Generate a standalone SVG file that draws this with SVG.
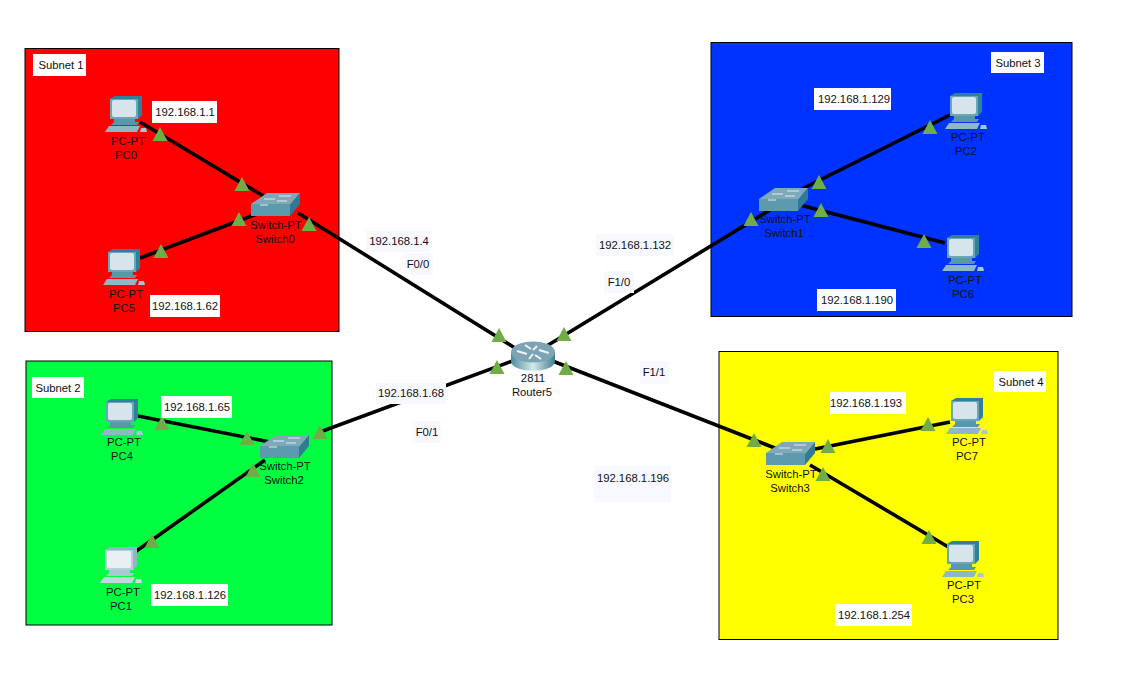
<svg xmlns="http://www.w3.org/2000/svg" width="1147" height="683" viewBox="0 0 1147 683">
<style>
text{font-family:"Liberation Sans",Arial,sans-serif;font-size:11.300px;fill:#101018;text-anchor:middle}
.zone{stroke:#000;stroke-width:1}
.link{stroke:#000;stroke-width:3.600;fill:none}
.w{fill:#fff}.f{fill:#f8f9ff}
.tri{fill:#70ad47}
</style>
<defs>
<linearGradient id="rg" x1="0" x2="1" y1="0" y2="0">
<stop offset="0" stop-color="#4f8d9f"/><stop offset=".5" stop-color="#d5e8ec"/><stop offset="1" stop-color="#3f7f93"/>
</linearGradient>
<g id="pc">
<path d="M5 3 L10 0 H37 V19 L33 23 H5Z" fill="#2f8199"/>
<path d="M5 3 H33 V23 H5Z" fill="#6aa6ba"/>
<rect x="7" y="4" width="24" height="17" rx="2" fill="#d6e4ec"/>
<path d="M9 23 H30 V26 H34 L32 29 H6 L9 26Z" fill="#5b97ab"/>
<path d="M4 30 H35 L32 36 H0Z" fill="#8fb8c6"/>
<path d="M36 32 H41 L42 36 H35Z" fill="#a6c8d2"/>
</g>
<g id="pcl">
<path d="M5 3 L10 0 H37 V19 L33 23 H5Z" fill="#8fb6c4"/>
<path d="M5 3 H33 V23 H5Z" fill="#b4d0da"/>
<rect x="7" y="4" width="24" height="17" rx="2" fill="#e8f0f4"/>
<path d="M9 23 H30 V26 H34 L32 29 H6 L9 26Z" fill="#a8c8d2"/>
<path d="M4 30 H35 L32 36 H0Z" fill="#c2d8de"/>
<path d="M36 32 H41 L42 36 H35Z" fill="#c8dce2"/>
</g>
<g id="sw">
<path d="M0 11 L16 0 H49 L39 12 Z" fill="#7fa9b8"/>
<path d="M0 11 H39 V23 H0Z" fill="#5d9aae"/>
<path d="M39 12 L49 0 V11 L39 23Z" fill="#2f7a94"/>
<path d="M13 6 H24 M28 3 H40 M9 12 H17 M26 8 H36" stroke="#dfeef3" stroke-width="1"/>
</g>
<g id="rt">
<path d="M0 11 V20 C0 33 44 33 44 20 V11Z" fill="url(#rg)"/>
<ellipse cx="22" cy="11" rx="22" ry="10.500" fill="#7ea3b5"/>
<path d="M6 10 L16 13 M38 12 L28 9 M14 4 L20 8 M30 18 L24 14 M26 5 L22 9 M18 18 L22 13" stroke="#eef6f8" stroke-width="2" fill="none"/>
</g>
<path id="tr" class="tri" d="M0 -14 L7.500 0 H-7.500Z"/>
</defs>
<rect width="1147" height="683" fill="#fff"/>
<g id="zones">
<rect class="zone" x="25" y="48.500" width="314" height="283" fill="#ff0000"/>
<rect class="zone" x="711" y="42.500" width="361" height="274" fill="#0033ff"/>
<rect class="zone" x="26" y="361" width="306" height="264" fill="#00ff40"/>
<rect class="zone" x="719" y="351.500" width="339" height="288" fill="#ffff00"/>
</g>
<g id="connectors">
<path class="link" d="M140 122L265 197"/>
<path class="link" d="M140 258L262 212"/>
<path class="link" d="M298 213L515 348"/>
<path class="link" d="M515 360L320 432"/>
<path class="link" d="M138 416L270 442"/>
<path class="link" d="M135 552L265 460"/>
<path class="link" d="M545 347L770 210"/>
<path class="link" d="M790 195L950 115"/>
<path class="link" d="M800 205L945 243"/>
<path class="link" d="M550 360L780 450"/>
<path class="link" d="M810 450L950 422"/>
<path class="link" d="M810 465L950 548"/>
</g>
<g id="triangles">
<use href="#tr" x="160" y="141"/><use href="#tr" x="242" y="191"/><use href="#tr" x="239" y="226"/><use href="#tr" x="309" y="231"/>
<use href="#tr" x="161" y="258"/><use href="#tr" x="162" y="430"/><use href="#tr" x="247" y="445"/><use href="#tr" x="320" y="439"/>
<use href="#tr" x="253" y="477"/><use href="#tr" x="152" y="548"/><use href="#tr" x="499" y="342"/><use href="#tr" x="497" y="374"/>
<use href="#tr" x="564" y="341"/><use href="#tr" x="566" y="375"/><use href="#tr" x="819" y="189"/><use href="#tr" x="751" y="226"/>
<use href="#tr" x="821" y="217"/><use href="#tr" x="930" y="134"/><use href="#tr" x="924" y="248"/><use href="#tr" x="754" y="447"/>
<use href="#tr" x="828" y="453"/><use href="#tr" x="823" y="481"/><use href="#tr" x="928" y="431"/><use href="#tr" x="929" y="544"/>
</g>
<g id="PC0"><use href="#pc" x="105" y="96"/><text x="128" y="145">PC-PT</text><text x="126" y="159">PC0</text></g>
<g id="PC5"><use href="#pc" x="103" y="249"/><text x="126" y="298">PC-PT</text><text x="124" y="312">PC5</text></g>
<g id="PC4"><use href="#pc" x="101" y="399"/><text x="124" y="446">PC-PT</text><text x="122" y="460">PC4</text></g>
<g id="PC1"><use href="#pcl" x="100" y="547"/><text x="123" y="596">PC-PT</text><text x="121" y="610">PC1</text></g>
<g id="PC2"><use href="#pc" x="945" y="93"/><text x="968" y="141">PC-PT</text><text x="966" y="155">PC2</text></g>
<g id="PC6"><use href="#pc" x="942" y="235"/><text x="965" y="284">PC-PT</text><text x="963" y="298">PC6</text></g>
<g id="PC7"><use href="#pc" x="946" y="398"/><text x="969" y="446">PC-PT</text><text x="967" y="460">PC7</text></g>
<g id="PC3"><use href="#pc" x="942" y="541"/><text x="964" y="589">PC-PT</text><text x="963" y="603">PC3</text></g>
<g id="Switch0"><use href="#sw" x="251" y="193"/><text x="276" y="229">Switch-PT</text><text x="275" y="243">Switch0</text></g>
<g id="Switch2"><use href="#sw" x="260" y="435"/><text x="285" y="470">Switch-PT</text><text x="284" y="484">Switch2</text></g>
<g id="Switch1"><use href="#sw" x="759" y="188"/><text x="785" y="223">Switch-PT</text><text x="784" y="237">Switch1</text></g>
<g id="Switch3"><use href="#sw" x="766" y="442"/><text x="791" y="478">Switch-PT</text><text x="790" y="492">Switch3</text></g>
<g id="Router5"><use href="#rt" x="511" y="341"/><text x="533" y="382">2811</text><text x="532" y="396">Router5</text></g>
<g id="labels">
<rect class="w" x="33" y="54" width="53" height="22"/><text x="61" y="69">Subnet 1</text>
<rect class="w" x="32" y="377" width="52" height="21"/><text x="58" y="392">Subnet 2</text>
<rect class="w" x="991" y="52" width="53" height="21"/><text x="1018" y="67">Subnet 3</text>
<rect class="w" x="994" y="371" width="52" height="21"/><text x="1021" y="386">Subnet 4</text>
<rect class="w" x="152" y="101" width="65" height="22"/><text x="185" y="116">192.168.1.1</text>
<rect class="w" x="150" y="295" width="70" height="22"/><text x="185" y="310">192.168.1.62</text>
<rect class="w" x="161" y="396" width="71" height="22"/><text x="197" y="411">192.168.1.65</text>
<rect class="w" x="151" y="584" width="77" height="22"/><text x="190" y="599">192.168.1.126</text>
<rect class="w" x="814" y="88" width="77" height="22"/><text x="854" y="103">192.168.1.129</text>
<rect class="w" x="817" y="289" width="79" height="22"/><text x="857" y="304">192.168.1.190</text>
<rect class="w" x="830" y="392" width="76" height="22"/><text x="866" y="407">192.168.1.193</text>
<rect class="w" x="835" y="604" width="77" height="22"/><text x="874" y="619">192.168.1.254</text>
<rect class="f" x="366" y="230" width="65" height="22"/><text x="399" y="245">192.168.1.4</text>
<rect class="f" x="404" y="253" width="29" height="22"/><text x="418" y="268">F0/0</text>
<rect class="f" x="376" y="382" width="70" height="22"/><text x="411" y="397">192.168.1.68</text>
<rect class="f" x="413" y="421" width="28" height="22"/><text x="427" y="436">F0/1</text>
<rect class="f" x="596" y="234" width="78" height="22"/><text x="635" y="249">192.168.1.132</text>
<rect class="f" x="604" y="271" width="30" height="22"/><text x="619" y="286">F1/0</text>
<rect class="f" x="640" y="361" width="29" height="23"/><text x="654" y="376">F1/1</text>
<rect class="f" x="594" y="466" width="77" height="36"/><text x="633" y="482">192.168.1.196</text>
</g>
</svg>
